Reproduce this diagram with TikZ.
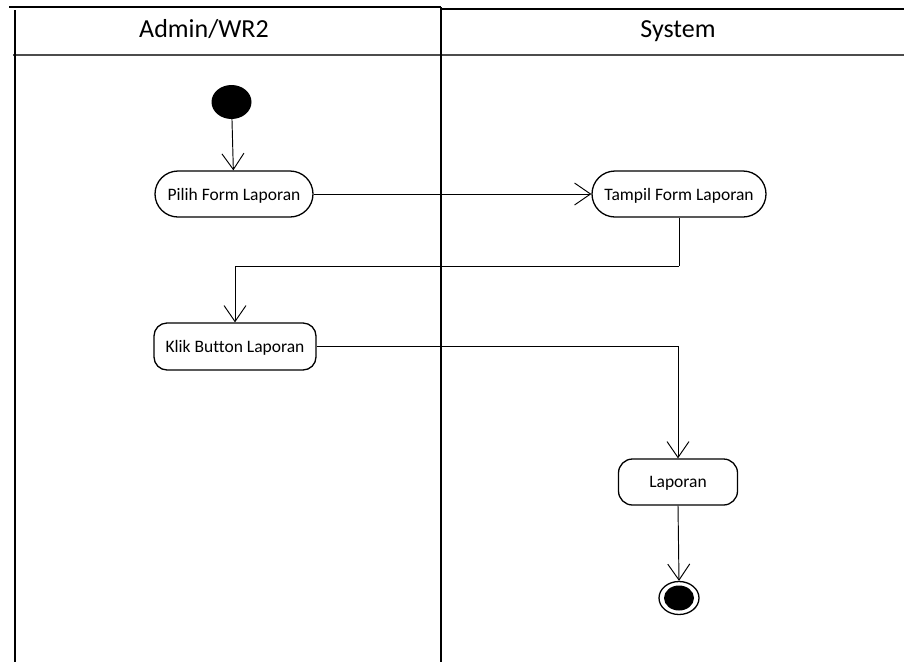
\documentclass[tikz,border=0pt]{standalone}
\usepackage{fontspec}
\setmainfont{Carlito}[Ligatures=NoCommon]
\usetikzlibrary{arrows.meta,shapes.geometric}
\begin{document}
\begin{tikzpicture}[x=1pt,y=-1pt,
  lane/.style={line width=2.6pt,black},
  hdr/.style={line width=1.8pt,black!70},
  act/.style={draw,line width=1.3pt,align=center,inner sep=0pt,text depth=0pt,font=\fontsize{17.5}{21}\selectfont},
  flow/.style={line width=0.95pt,-{Straight Barb[length=16pt,width=22pt,line width=0.95pt]}},
  plain/.style={line width=0.95pt},
  title/.style={anchor=base,font=\fontsize{26}{30}\selectfont}
]
\path[use as bounding box] (0,0) rectangle (904,662);
% swimlanes
\draw[line width=2pt] (9,7) -- (441,7);
\draw[line width=2pt] (441,9) -- (904,9);
\draw[hdr] (13,55) -- (904,55);
\draw[lane] (15,10) -- (15,662);
\draw[lane] (441,7) -- (441,662);
\node[title] (h1) at (204,37) {Admin/WR2};
\node[title] (h2) at (678,37) {System};
% nodes
\node[ellipse,fill=black,minimum width=40pt,minimum height=34pt,inner sep=0pt] (start) at (231.5,102) {};
\node[act,minimum width=158pt,minimum height=46pt,rounded corners=23pt] (pilih) at (234,194) {Pilih Form Laporan};
\node[act,minimum width=174pt,minimum height=46pt,rounded corners=23pt] (tampil) at (679,194) {Tampil Form Laporan};
\node[act,minimum width=162pt,minimum height=47pt,rounded corners=13pt] (klik) at (235,346.5) {Klik Button Laporan};
\node[act,minimum width=119pt,minimum height=46pt,rounded corners=14pt] (lap) at (678,482) {Laporan};
\node[ellipse,draw,line width=1.3pt,minimum width=40pt,minimum height=33pt,inner sep=0pt] (end) at (679,598) {};
\node[ellipse,fill=black,minimum width=30pt,minimum height=25pt,inner sep=0pt] (endin) at (679,598) {};
\coordinate (c1) at (679,266);
% connectors
\draw[flow] (start) -- (pilih);
\draw[flow] (pilih.east) -- (tampil.west);
\draw[plain] (tampil.south) -- (c1);
\draw[flow] (c1) -| (klik.north);
\draw[flow] (klik.east) -| (lap.north);
\draw[flow] (lap.south) -- (end.north);
\end{tikzpicture}
\end{document}
